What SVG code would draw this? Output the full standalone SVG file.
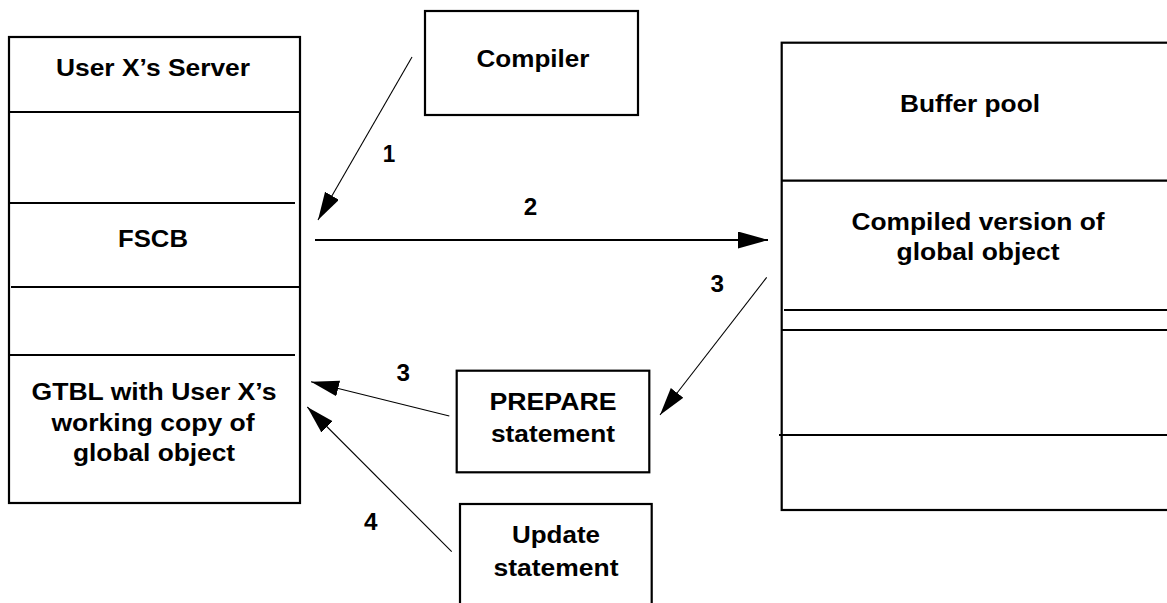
<svg xmlns="http://www.w3.org/2000/svg" width="1167" height="603" viewBox="0 0 1167 603">
<style>
.box{fill:#fff;stroke:#000;stroke-width:2.2}
.div{stroke:#000;stroke-width:2.2}
.t{font-family:"Liberation Sans",Arial,Helvetica,sans-serif;font-weight:bold;font-size:23.5px;fill:#000;text-anchor:middle}
.con{stroke:#000;stroke-width:1.1;fill:none}
.con.thick{stroke-width:2.2}
</style>
<defs>
<marker id="ah" markerUnits="userSpaceOnUse" markerWidth="30" markerHeight="18" refX="28" refY="8" orient="auto">
<path d="M0,0 L28,8 L0,16 z" fill="#000"/>
</marker>
<marker id="ah2" markerUnits="userSpaceOnUse" markerWidth="32" markerHeight="20" refX="30" refY="8.5" orient="auto">
<path d="M0,0 L30,8.5 L0,17 z" fill="#000"/>
</marker>
</defs>
<rect width="1167" height="603" fill="#fff"/>

<g id="user-server">
<rect class="box" x="9" y="37" width="291" height="466"/>
<line class="div" x1="9" y1="112" x2="300" y2="112"/>
<line class="div" x1="9" y1="203" x2="295" y2="203"/>
<line class="div" x1="11" y1="287" x2="300" y2="287"/>
<line class="div" x1="9" y1="355" x2="295" y2="355"/>
<text class="t" x="153" y="76" textLength="194" lengthAdjust="spacingAndGlyphs">User X’s Server</text>
<text class="t" x="153" y="246.5" textLength="70" lengthAdjust="spacingAndGlyphs">FSCB</text>
<text class="t" x="154" y="400" textLength="245" lengthAdjust="spacingAndGlyphs">GTBL with User X’s</text>
<text class="t" x="153" y="430.5" textLength="203" lengthAdjust="spacingAndGlyphs">working copy of</text>
<text class="t" x="154" y="460.5" textLength="162" lengthAdjust="spacingAndGlyphs">global object</text>
</g>

<g id="compiler">
<rect class="box" x="425" y="11" width="213" height="104"/>
<text class="t" x="533" y="66.5" textLength="113" lengthAdjust="spacingAndGlyphs">Compiler</text>
</g>

<g id="buffer-pool">
<rect class="box" x="781.7" y="42.7" width="420" height="467.3"/>
<line class="div" x1="781.7" y1="180.7" x2="1200" y2="180.7"/>
<line class="div" x1="784" y1="310" x2="1200" y2="310"/>
<line class="div" x1="781.7" y1="330" x2="1200" y2="330"/>
<line class="div" x1="779" y1="435" x2="1200" y2="435"/>
<text class="t" x="970" y="111.5" textLength="140" lengthAdjust="spacingAndGlyphs">Buffer pool</text>
<text class="t" x="978" y="230" textLength="253" lengthAdjust="spacingAndGlyphs">Compiled version of</text>
<text class="t" x="978" y="260" textLength="163" lengthAdjust="spacingAndGlyphs">global object</text>
</g>

<g id="prepare">
<rect class="box" x="456.7" y="370.7" width="192.6" height="101.6"/>
<text class="t" x="553" y="410" textLength="127" lengthAdjust="spacingAndGlyphs">PREPARE</text>
<text class="t" x="553" y="441.5" textLength="124" lengthAdjust="spacingAndGlyphs">statement</text>
</g>

<g id="update">
<rect class="box" x="460" y="504" width="191.7" height="120"/>
<text class="t" x="556" y="543.3" textLength="88" lengthAdjust="spacingAndGlyphs">Update</text>
<text class="t" x="556" y="576" textLength="125" lengthAdjust="spacingAndGlyphs">statement</text>
</g>

<g id="connectors">
<line class="con" x1="412" y1="57" x2="318" y2="220" marker-end="url(#ah)"/>
<line class="con thick" x1="315" y1="240" x2="768" y2="240" marker-end="url(#ah2)"/>
<line class="con" x1="766.7" y1="277.3" x2="660" y2="415" marker-end="url(#ah)"/>
<line class="con" x1="449.3" y1="416" x2="311" y2="381.7" marker-end="url(#ah)"/>
<line class="con" x1="451.7" y1="551.7" x2="307.3" y2="407" marker-end="url(#ah)"/>
<text class="t" x="389" y="161.7" textLength="12.5" lengthAdjust="spacingAndGlyphs">1</text>
<text class="t" x="530.5" y="215" textLength="13.5" lengthAdjust="spacingAndGlyphs">2</text>
<text class="t" x="717.3" y="292" textLength="13.5" lengthAdjust="spacingAndGlyphs">3</text>
<text class="t" x="403.3" y="380.5" textLength="13.5" lengthAdjust="spacingAndGlyphs">3</text>
<text class="t" x="370.7" y="530" textLength="13.5" lengthAdjust="spacingAndGlyphs">4</text>
</g>
</svg>
